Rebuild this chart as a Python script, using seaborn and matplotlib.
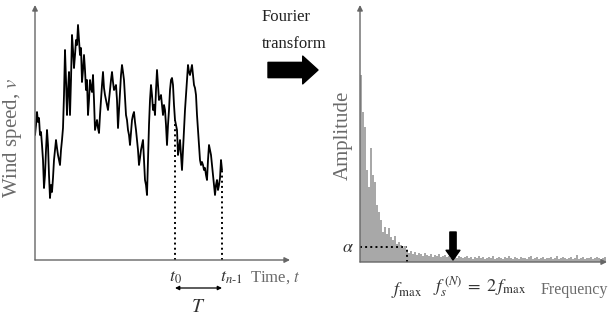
import matplotlib
matplotlib.use("Agg")
import matplotlib.pyplot as plt
import seaborn as sns

# wind speed record (arbitrary units), one sample per time step
time_steps = list(range(188))
wind_speed = [
    125, 135, 148, 138, 142, 125, 128, 115, 100, 72,
    85, 110, 130, 115, 85, 62, 75, 68, 82, 100,
    110, 120, 112, 105, 100, 95, 110, 120, 132, 165,
    210, 180, 145, 170, 188, 145, 180, 225, 210, 192,
    205, 220, 215, 235, 220, 205, 212, 178, 190, 205,
    190, 170, 180, 145, 160, 180, 172, 168, 185, 160,
    130, 135, 140, 132, 127, 145, 160, 175, 188, 172,
    165, 160, 155, 150, 160, 170, 180, 188, 178, 170,
    172, 175, 160, 132, 150, 170, 185, 195, 188, 180,
    162, 145, 140, 130, 125, 115, 128, 140, 145, 148,
    138, 130, 120, 110, 95, 102, 110, 115, 120, 100,
    80, 75, 65, 100, 135, 160, 175, 165, 150, 155,
    145, 170, 190, 175, 160, 162, 165, 155, 145, 155,
    150, 135, 115, 135, 150, 170, 180, 182, 175, 155,
    140, 135, 130, 105, 112, 120, 105, 90, 110, 130,
    150, 165, 180, 195, 188, 185, 190, 195, 185, 175,
    172, 165, 145, 130, 115, 100, 95, 98, 95, 90,
    92, 85, 80, 100, 115, 110, 105, 95, 85, 75,
    65, 75, 80, 70, 75, 82, 100, 90,
]
t0, t_end = 140, 187

# amplitude spectrum, one bar per frequency bin
freq_bins = list(range(0, 246, 2))
amplitude = [
    187, 150, 135, 92, 75, 114, 87, 80, 57, 50,
    42, 30, 35, 28, 34, 25, 22, 26, 18, 20,
    17, 14, 16, 12, 9, 11, 8, 10, 7, 9,
    8, 6, 9, 7, 6, 8, 5, 7, 6, 8,
    5, 6, 7, 5, 6, 4, 6, 5, 4, 6,
    5, 4, 5, 6, 4, 5, 3, 5, 4, 6,
    4, 5, 3, 4, 5, 4, 6, 3, 4, 5,
    4, 3, 5, 4, 6, 4, 3, 5, 4, 3,
    5, 4, 4, 3, 5, 6, 3, 4, 5, 3,
    4, 5, 3, 4, 4, 5, 3, 4, 6, 3,
    4, 5, 4, 3, 4, 5, 3, 4, 7, 3,
    4, 5, 3, 4, 4, 5, 3, 4, 5, 4,
    3, 4, 5,
]
f_max = 47
alpha_level = 15
f_nyq = 93

sns.set_style("white")
plt.rcParams["font.family"] = ["Liberation Serif", "DejaVu Serif"]
plt.rcParams["mathtext.fontset"] = "stix"

W, H = 611, 323
fig = plt.figure(figsize=(W / 100, H / 100), dpi=100)

def box(x0, y0, x1, y1):
    return [x0 / W, 1 - y1 / H, (x1 - x0) / W, (y1 - y0) / H]

axis_col = "#666666"
label_col = "#6a6a6a"
arrow_ax = dict(arrowstyle="-|>", color=axis_col, lw=1.0, mutation_scale=8, shrinkA=0, shrinkB=0)

def draw_axes(ax):
    # plain arrowed axes, no ticks
    ax.annotate("", xy=(0, 1.0), xytext=(0, 0), xycoords="axes fraction",
                arrowprops=arrow_ax, annotation_clip=False)
    ax.annotate("", xy=(1.0, 0), xytext=(0, 0), xycoords="axes fraction",
                arrowprops=arrow_ax, annotation_clip=False)

# ---- left: time series
ax1 = fig.add_axes(box(35, 5, 290, 260))
sns.lineplot(x=time_steps, y=wind_speed, color="black", lw=1.3, ax=ax1)
ax1.set_xlim(0, 255)
ax1.set_ylim(0, 255)
ax1.axis("off")
ax1.plot([t0, t0], [0, wind_speed[t0]], ls=":", color="black", lw=1.4)
ax1.plot([t_end, t_end], [0, wind_speed[t_end]], ls=":", color="black", lw=1.4)
draw_axes(ax1)
ax1.text(-22, 122, "Wind speed, $v$", rotation=90, ha="center", va="center",
         fontsize=15, color=label_col)
ax1.text(t0, -18, "$t_0$", ha="center", va="center", fontsize=13, color="#333333")
ax1.text(t_end - 2, -18, "$t_{n\\text{-}1}$", ha="left", va="center", fontsize=13, color="#333333")
ax1.text(215, -18, "Time, $t$", ha="left", va="center", fontsize=12, color=label_col)
ax1.annotate("", xy=(t0, -28), xytext=(t_end, -28), xycoords="data",
             arrowprops=dict(arrowstyle="<|-|>", color="black", lw=0.9,
                             mutation_scale=6, shrinkA=0, shrinkB=0),
             annotation_clip=False)
ax1.text((t0 + t_end) / 2, -48, "$T$", ha="center", va="center", fontsize=14, color="#333333")

# ---- right: spectrum
ax2 = fig.add_axes(box(360, 5, 607, 262))
ax2.bar(freq_bins, amplitude, width=2, align="edge", color="#a8a8a8", linewidth=0)
ax2.set_xlim(0, 247)
ax2.set_ylim(0, 257)
ax2.axis("off")
draw_axes(ax2)
ax2.plot([0, f_max], [alpha_level, alpha_level], ls=":", color="black", lw=1.4)
ax2.plot([f_max, f_max], [0, alpha_level], ls=":", color="black", lw=1.4)
ax2.annotate("", xy=(f_nyq, 2), xytext=(f_nyq, 30), xycoords="data",
             arrowprops=dict(arrowstyle="simple,head_length=0.7,head_width=1.0,tail_width=0.45",
                             color="black", mutation_scale=10, shrinkA=0, shrinkB=0))
ax2.text(-17, 127, "Amplitude", rotation=90, ha="center", va="center",
         fontsize=15, color=label_col)
ax2.text(-12, alpha_level, "$\\alpha$", ha="center", va="center", fontsize=13, color="#333333")
ax2.text(f_max, -28, "$f_{\\mathrm{max}}$", ha="center", va="center", fontsize=13, color="#333333")
ax2.text(120, -25, "$f_s^{\\,(N)}\\;=\\;2\\,f_{\\mathrm{max}}$", ha="center", va="center",
         fontsize=13, color="#333333")
ax2.text(214, -28, "Frequency", ha="center", va="center", fontsize=11.5, color=label_col)

# ---- middle: Fourier transform arrow
fig.text(262 / W, 1 - 17 / H, "Fourier", ha="left", va="center", fontsize=12, color="#222222")
fig.text(262 / W, 1 - 44 / H, "transform", ha="left", va="center", fontsize=12, color="#222222")
fig.add_artist(matplotlib.text.Annotation(
    "", xy=(318, H - 70), xytext=(268, H - 70), xycoords="figure pixels",
    arrowprops=dict(arrowstyle="simple,head_length=0.55,head_width=1.0,tail_width=0.55",
                    color="black", mutation_scale=20, shrinkA=0, shrinkB=0)))

fig.savefig("out.png", dpi=100)
